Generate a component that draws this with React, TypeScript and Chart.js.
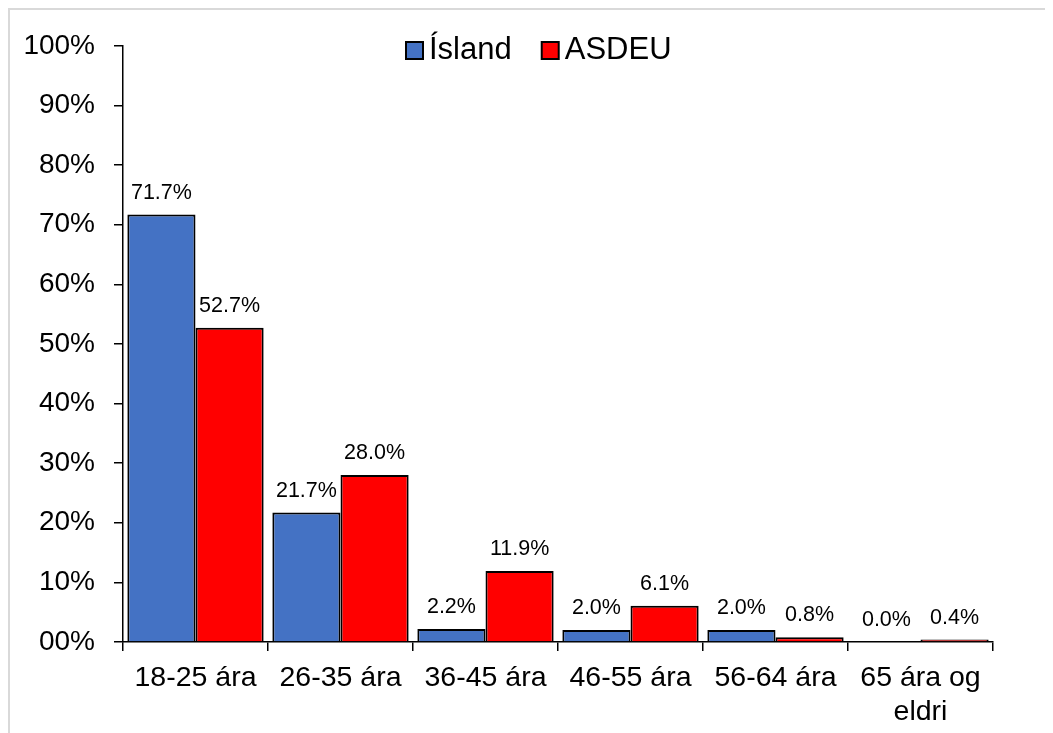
import React, { useEffect, useRef } from "react";
import { Chart, registerables } from "chart.js";

Chart.register(...registerables);

const categories: (string | string[])[] = [
  "18-25 ára",
  "26-35 ára",
  "36-45 ára",
  "46-55 ára",
  "56-64 ára",
  ["65 ára og", "eldri"],
];
const islandValues = [71.7, 21.7, 2.2, 2.0, 2.0, 0.0];
const asdeuValues = [52.7, 28.0, 11.9, 6.1, 0.8, 0.4];
const seriesNames = ["Ísland", "ASDEU"];
const seriesColors = ["#4472C4", "#FF0000"];
const yTicks = [0, 10, 20, 30, 40, 50, 60, 70, 80, 90, 100];

const FONT = "'Liberation Sans', Arial, sans-serif";

const dataLabelPlugin = {
  id: "dataLabels",
  afterDatasetsDraw(chart: any) {
    const ctx = chart.ctx;
    ctx.save();
    ctx.font = `21.5px ${FONT}`;
    ctx.fillStyle = "#000";
    ctx.textAlign = "center";
    ctx.textBaseline = "alphabetic";
    chart.data.datasets.forEach((ds: any, i: number) => {
      const meta = chart.getDatasetMeta(i);
      meta.data.forEach((bar: any, j: number) => {
        const v = ds.data[j] as number;
        ctx.fillText(v.toFixed(1) + "%", bar.x, bar.y - 16);
      });
    });
    ctx.restore();
  },
};

const legendPlugin = {
  id: "customLegend",
  afterDraw(chart: any) {
    const ctx = chart.ctx;
    ctx.save();
    ctx.font = `31px ${FONT}`;
    ctx.textBaseline = "alphabetic";
    ctx.textAlign = "left";
    let x = 396;
    const boxTop = 32;
    const box = 17;
    chart.data.datasets.forEach((ds: any) => {
      ctx.fillStyle = ds.backgroundColor;
      ctx.fillRect(x, boxTop, box, box);
      ctx.strokeStyle = "#000";
      ctx.lineWidth = 2;
      ctx.strokeRect(x, boxTop, box, box);
      ctx.fillStyle = "#000";
      ctx.fillText(ds.label, x + box + 6, 49);
      x += box + 6 + ctx.measureText(ds.label).width + 30;
    });
    ctx.restore();
  },
};

export default function App() {
  const canvasRef = useRef<HTMLCanvasElement | null>(null);

  useEffect(() => {
    if (!canvasRef.current) return;
    const chart = new Chart(canvasRef.current, {
      type: "bar",
      data: {
        labels: categories,
        datasets: [
          {
            label: seriesNames[0],
            data: islandValues,
            backgroundColor: seriesColors[0],
            borderColor: "#000",
            borderWidth: 2,
            categoryPercentage: 0.94,
            barPercentage: 1.0,
          },
          {
            label: seriesNames[1],
            data: asdeuValues,
            backgroundColor: seriesColors[1],
            borderColor: "#000",
            borderWidth: 2,
            categoryPercentage: 0.94,
            barPercentage: 1.0,
          },
        ],
      },
      options: {
        responsive: false,
        animation: false,
        layout: { padding: { left: 0, right: 52, top: 34, bottom: 0 } },
        plugins: {
          legend: { display: false },
          tooltip: { enabled: false },
        },
        scales: {
          x: {
            grid: {
              display: true,
              drawOnChartArea: false,
              drawTicks: true,
              tickLength: 9,
              color: "#000",
              lineWidth: 1.5,
              offset: true,
            },
            border: { display: true, color: "#000", width: 1.5 },
            ticks: {
              color: "#000",
              font: { family: FONT, size: 28.5, lineHeight: 1.2 },
              padding: 10,
              maxRotation: 0,
              autoSkip: false,
            },
            afterFit(scale: any) {
              scale.height = 91;
            },
          },
          y: {
            min: 0,
            max: 100,
            afterBuildTicks(scale: any) {
              scale.ticks = yTicks.map((v) => ({ value: v }));
            },
            grid: {
              display: true,
              drawOnChartArea: false,
              drawTicks: true,
              tickLength: 9,
              color: "#000",
              lineWidth: 1.5,
            },
            border: { display: true, color: "#000", width: 1.5 },
            ticks: {
              color: "#000",
              font: { family: FONT, size: 28 },
              padding: 19,
              callback: (v: any) => (Number(v) === 0 ? "00%" : v + "%"),
            },
            afterFit(scale: any) {
              scale.width = 113;
            },
          },
        },
      },
      plugins: [dataLabelPlugin, legendPlugin],
    });
    return () => chart.destroy();
  }, []);

  return (
    <div
      style={{
        borderTop: "2px solid #d9d9d9",
        borderLeft: "2px solid #d9d9d9",
        height: 723,
        overflow: "hidden",
      }}
    >
      <canvas ref={canvasRef} width={1035} height={723} style={{ display: "block" }} />
    </div>
  );
}
